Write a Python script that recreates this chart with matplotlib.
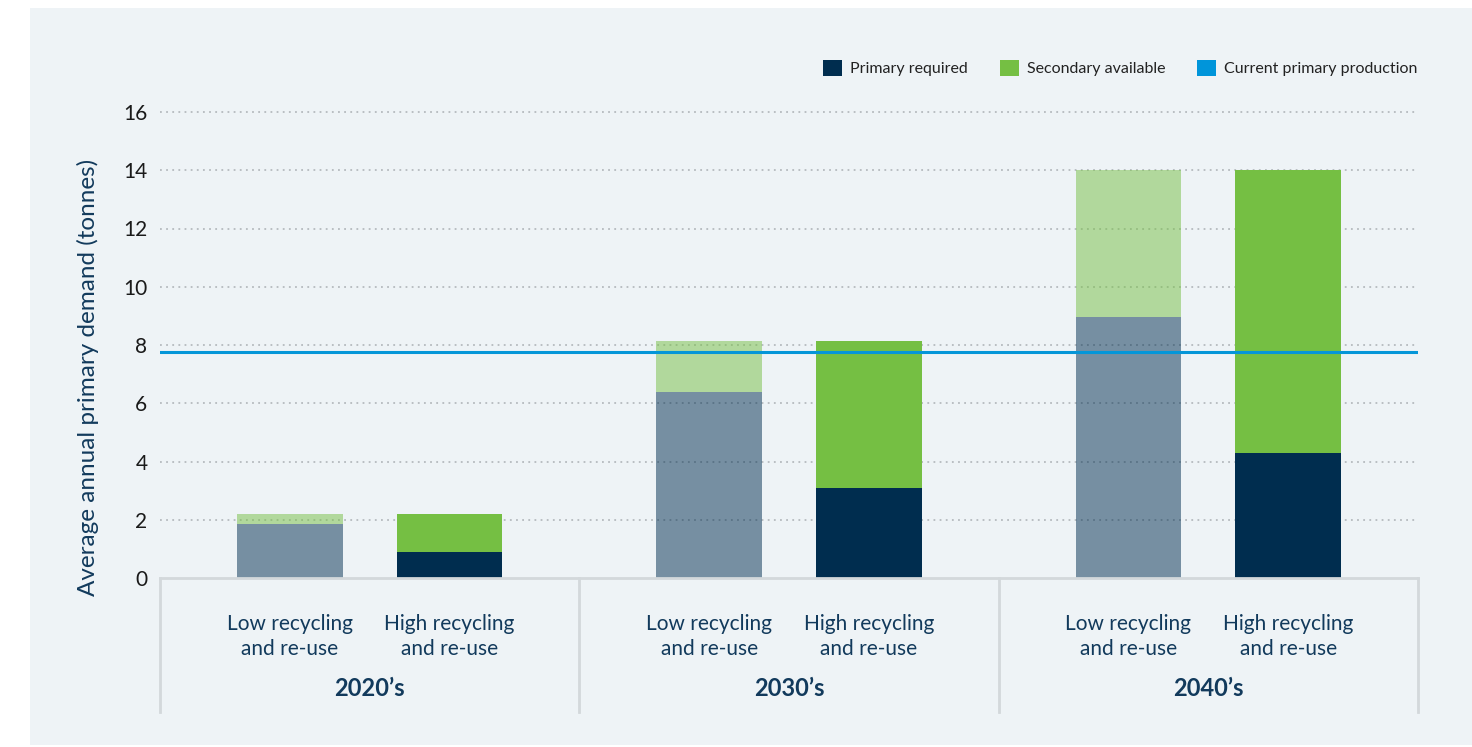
import matplotlib.pyplot as plt
from matplotlib.patches import Patch, Rectangle

# data
decades = ["2020’s", "2030’s", "2040’s"]
scenarios = ["Low recycling\nand re-use", "High recycling\nand re-use"]
primary_low = [1.85, 6.4, 8.95]
secondary_low = [0.35, 1.75, 5.05]
primary_high = [0.9, 3.1, 4.3]
secondary_high = [1.3, 5.05, 9.7]
current_production = 7.75
yticks = [0, 2, 4, 6, 8, 10, 12, 14, 16]

navy = "#002d4f"
green = "#75bf43"
blue = "#0596d8"
bg = "#eef3f6"
text_navy = "#123a5c"
sep_grey = "#d3d8db"

plt.rcParams['font.family'] = ['Lato', 'DejaVu Sans']

fig = plt.figure(figsize=(14.72, 7.47), dpi=100)
fig.patch.set_facecolor("white")
fig.add_artist(Rectangle((30 / 1472, 2 / 747), 1442 / 1472, 737 / 747,
                         transform=fig.transFigure, facecolor=bg, edgecolor="none", zorder=0))

ax = fig.add_axes([160 / 1472, (747 - 578) / 747, 1258 / 1472, 466 / 747])
ax.set_facecolor("none")

offset = 80 / 420
width = 106 / 420
centers = [i + 0.5 for i in range(len(decades))]
x_low = [c - offset for c in centers]
x_high = [c + offset for c in centers]

# low recycling drawn translucent
ax.bar(x_low, primary_low, width, color=navy, alpha=0.5, zorder=2)
ax.bar(x_low, secondary_low, width, bottom=primary_low, color=green, alpha=0.5, zorder=2)
ax.bar(x_high, primary_high, width, color=navy, zorder=2)
ax.bar(x_high, secondary_high, width, bottom=primary_high, color=green, zorder=2)

ax.axhline(current_production, color=blue, lw=2.2, zorder=3)

ax.set_xlim(0, len(decades))
ax.set_ylim(0, 16)
ax.set_yticks(yticks)
ax.set_xticks([])
for t in yticks[1:]:
    ax.axhline(t, color="#b5babe", lw=1.3, dashes=(1, 2.4), zorder=1, clip_on=False)
ax.tick_params(axis="y", length=0, pad=9, labelsize=15, labelcolor="#1a1a1a")

for s in ["top", "right", "left"]:
    ax.spines[s].set_visible(False)
ax.spines["bottom"].set_color(sep_grey)
ax.spines["bottom"].set_linewidth(2)

# category boxes below the axis
trans = ax.get_xaxis_transform()
for xv in range(len(decades) + 1):
    ax.plot([xv, xv], [0, -134 / 466], color=sep_grey, lw=2, transform=trans, clip_on=False)
for i, c in enumerate(centers):
    ax.text(x_low[i], -58.5 / 466, scenarios[0], transform=trans, ha="center", va="center",
            fontsize=15, color=text_navy, linespacing=1.32)
    ax.text(x_high[i], -58.5 / 466, scenarios[1], transform=trans, ha="center", va="center",
            fontsize=15, color=text_navy, linespacing=1.32)
    ax.text(c, -111 / 466, decades[i], transform=trans, ha="center", va="center",
            fontsize=17, fontweight="bold", color=text_navy)

fig.text(88 / 1472, 1 - 377 / 747, "Average annual primary demand (tonnes)", rotation=90,
         ha="center", va="center", fontsize=17.5, color=text_navy)

handles = [Patch(facecolor=navy), Patch(facecolor=green), Patch(facecolor="#0095da")]
labels = ["Primary required", "Secondary available", "Current primary production"]
leg = fig.legend(handles, labels, loc="center right", bbox_to_anchor=(1432 / 1472, 1 - 68 / 747),
                 ncol=3, frameon=False, fontsize=11.5, handlelength=1.2, handleheight=1.2,
                 handletextpad=0.5, columnspacing=2.0)
for t in leg.get_texts():
    t.set_color("#222222")

fig.savefig("out.png", dpi=100)
